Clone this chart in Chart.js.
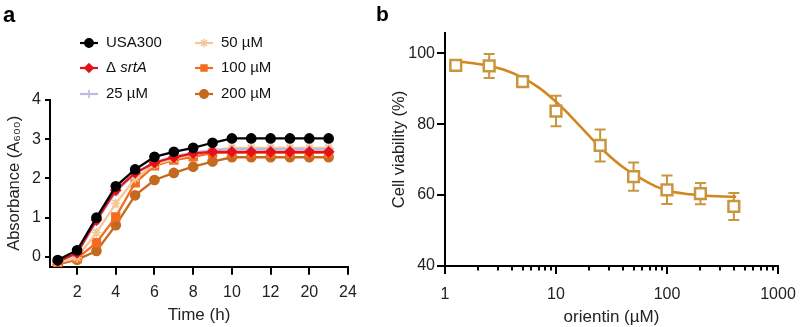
<!DOCTYPE html>
<html><head><meta charset="utf-8">
<script src="https://cdn.jsdelivr.net/npm/chart.js@4/dist/chart.umd.min.js"></script>
<style>
html,body{margin:0;padding:0;background:#fff;}
body{width:800px;height:327px;position:relative;overflow:hidden;font-family:"Liberation Sans",Arial,sans-serif;}
#wa{position:absolute;left:0;top:0;width:385px;height:327px;}
#wb{position:absolute;left:385px;top:0;width:415px;height:327px;}
.pl{position:absolute;font-weight:bold;color:#000;font-family:"Liberation Sans",Arial,sans-serif;line-height:1;}
</style></head>
<body>
<div id="wa"><canvas id="ca"></canvas></div>
<div id="wb"><canvas id="cb"></canvas></div>
<div class="pl" style="left:3px;top:4px;font-size:22px;">a</div>
<div class="pl" style="left:376px;top:3px;font-size:21px;">b</div>
<script>
// ---------- Panel a data ----------
const timePos = [1,2,3,4,5,6,7,8,9,10,11,12,13,14,15];
const xTickPos = [2,4,6,8,10,12,14,16];
const xTickLabels = ['2','4','6','8','10','12','20','24'];
const yTicksA = [0,1,2,3,4];
const seriesNames = ['USA300','\u0394srtA','25 \u00b5M','50 \u00b5M','100 \u00b5M','200 \u00b5M'];
const usa300 = [-0.08,0.17,1.00,1.80,2.23,2.55,2.68,2.78,2.91,3.02,3.02,3.02,3.02,3.02,3.02];
const srtA   = [-0.12,0.10,0.94,1.70,2.14,2.40,2.54,2.64,2.68,2.68,2.68,2.68,2.68,2.68,2.68];
const c25    = [-0.12,0.08,0.90,1.66,2.12,2.42,2.56,2.66,2.72,2.75,2.75,2.75,2.75,2.75,2.75];
const c50    = [-0.15,-0.02,0.62,1.36,2.00,2.36,2.50,2.62,2.72,2.78,2.78,2.78,2.78,2.78,2.78];
const c100   = [-0.16,-0.04,0.36,1.02,1.89,2.32,2.47,2.55,2.65,2.65,2.65,2.65,2.65,2.65,2.65];
const c200   = [-0.19,-0.07,0.15,0.81,1.57,1.96,2.14,2.30,2.43,2.54,2.54,2.54,2.54,2.54,2.54];
const errA   = [0.04,0.05,0.07,0.08,0.07,0.07,0.06,0.06,0.06,0.06,0.06,0.06,0.06,0.06,0.06];

// ---------- Panel b data ----------
const conc = [1.25,2.5,5,10,25,50,100,200,400];
const viability = [96.6,96.4,92.0,83.7,74.0,65.2,61.5,60.4,56.8];
const viabErr = [1.0,3.4,1.0,4.3,4.5,4.0,4.0,3.0,3.8];
const fitX = [1.27,1.8,2.5,3.5,5,7,10,14,20,28,40,56,80,110,160,230,320,420];
const fitY = [97.7,97.2,96.4,95.2,93.1,90.3,86.3,81.8,76.6,72.0,67.9,65.0,62.4,61.0,60.2,59.8,59.6,59.5];
const xMajorB = [1,10,100,1000];
const xMinorB = [2,3,4,5,6,7,8,9,20,30,40,50,60,70,80,90,200,300,400,500,600,700,800,900];
const yTicksB = [40,60,80,100];

const FONT = '"Liberation Sans", Arial, sans-serif';
Chart.defaults.font.family = FONT;
Chart.defaults.color = '#222';

const errorBarPlugin = {
  id: 'errorBars',
  beforeDatasetsDraw(chart) {
    const ctx = chart.ctx;
    chart.data.datasets.forEach((ds, i) => {
      if (!ds.errors) return;
      const meta = chart.getDatasetMeta(i);
      const xs = chart.scales[meta.xAxisID], ys = chart.scales[meta.yAxisID];
      ctx.save();
      ctx.strokeStyle = ds.errorColor || ds.borderColor;
      ctx.lineWidth = ds.errorWidth || 1.5;
      const c = (ds.capWidth || 6) / 2;
      ds.data.forEach((p, j) => {
        const e = ds.errors[j]; if (!e) return;
        const x = xs.getPixelForValue(p.x);
        const y1 = ys.getPixelForValue(p.y - e), y2 = ys.getPixelForValue(p.y + e);
        ctx.beginPath();
        ctx.moveTo(x, y1); ctx.lineTo(x, y2);
        ctx.moveTo(x - c, y1); ctx.lineTo(x + c, y1);
        ctx.moveTo(x - c, y2); ctx.lineTo(x + c, y2);
        ctx.stroke();
      });
      ctx.restore();
    });
  }
};

const legendPlugin = {
  id: 'customLegend',
  afterDraw(chart) {
    const ctx = chart.ctx;
    const colX = [80, 195], rowY = [43, 68, 94];
    chart.data.datasets.forEach((ds, i) => {
      const col = i < 3 ? 0 : 1, row = i % 3;
      const x0 = colX[col], y = rowY[row];
      ctx.save();
      ctx.strokeStyle = ds.borderColor; ctx.lineWidth = 2.2;
      ctx.beginPath(); ctx.moveTo(x0, y); ctx.lineTo(x0 + 18, y); ctx.stroke();
      ctx.fillStyle = ds.pointBackgroundColor; ctx.strokeStyle = ds.borderColor; ctx.lineWidth = 1.5;
      Chart.helpers.drawPoint(ctx, {pointStyle: ds.pointStyle, radius: 4.2, rotation: 0, borderWidth: 1.5}, x0 + 9, y);
      ctx.fillStyle = '#111'; ctx.textBaseline = 'middle'; ctx.textAlign = 'left';
      let tx = x0 + 26;
      const name = ds.label;
      if (name.startsWith('\u0394')) {
        ctx.font = '15px ' + FONT;
        ctx.fillText('\u0394 ', tx, y);
        tx += ctx.measureText('\u0394 ').width;
        ctx.font = 'italic 15px ' + FONT;
        ctx.fillText(name.slice(1), tx, y);
      } else {
        ctx.font = '15px ' + FONT;
        ctx.fillText(name, tx, y);
      }
      ctx.restore();
    });
  }
};

const colorsA = ['#000000','#e3111b','#b9b9ec','#f6c896','#f36c21','#c46a1f'];
const stylesA = ['circle','rectRot','cross','star','rect','circle'];
const radiusA = [4.6,4.8,4.5,4.8,5.6,4.6];
const valsA = [usa300, srtA, c25, c50, c100, c200];
const orderA = [0,1,2,3,4,5];

const dsA = valsA.map((v, i) => ({
  label: seriesNames[i],
  data: timePos.map((t, j) => ({x: t, y: v[j]})),
  errors: errA,
  capWidth: 6,
  errorWidth: 1.5,
  borderColor: colorsA[i],
  backgroundColor: colorsA[i],
  pointBackgroundColor: colorsA[i],
  pointBorderColor: colorsA[i],
  pointStyle: stylesA[i],
  pointRadius: radiusA[i],
  pointBorderWidth: 1.5,
  borderWidth: 2.3,
  tension: 0,
  order: orderA[i]
}));

const axisCommon = (tl) => ({
  grid: {display: true, drawOnChartArea: false, drawTicks: true, tickLength: tl, color: '#000', lineWidth: 2},
  border: {display: true, color: '#000', width: 2}
});

new Chart(document.getElementById('ca'), {
  type: 'line',
  data: {datasets: dsA},
  options: {
    responsive: true, maintainAspectRatio: false, animation: false,
    layout: {padding: {top: 100, right: 37, left: 0, bottom: 0}},
    plugins: {legend: {display: false}, tooltip: {enabled: false}},
    scales: {
      x: Object.assign({
        type: 'linear', min: 0.6, max: 16,
        afterBuildTicks: s => { s.ticks = xTickPos.map(v => ({value: v})); },
        afterFit: s => { s.height = 60.3; s.paddingLeft = 0; s.paddingRight = 0; },
        ticks: {font: {size: 16}, color: '#222', padding: 8, maxRotation: 0,
          callback: v => { const k = xTickPos.indexOf(v); return k >= 0 ? xTickLabels[k] : ''; }},
        title: {display: true, text: 'Time (h)', font: {size: 17}, color: '#222', padding: {top: 0, bottom: 1}}
      }, axisCommon(8)),
      y: Object.assign({
        type: 'linear', min: -0.25, max: 4,
        afterBuildTicks: s => { s.ticks = yTicksA.map(v => ({value: v})); },
        afterFit: s => { s.width = 50; },
        ticks: {font: {size: 16}, color: '#222', padding: 4},
        title: {display: true, text: 'Absorbance (A\u2086\u2080\u2080)', font: {size: 16.5}, color: '#222', padding: {top: 5, bottom: 0}}
      }, axisCommon(5))
    }
  },
  plugins: [errorBarPlugin, legendPlugin]
});

const colB = '#c9963f';
const curveB = '#d4861e';
new Chart(document.getElementById('cb'), {
  type: 'line',
  data: {datasets: [
    {
      label: 'data',
      data: conc.map((c, j) => ({x: c, y: viability[j]})),
      errors: viabErr, capWidth: 11, errorWidth: 2, errorColor: colB,
      showLine: false,
      pointStyle: 'rect', pointRadius: 7.6, pointBorderWidth: 2.5,
      pointBorderColor: colB, pointBackgroundColor: '#ffffff',
      borderColor: colB, backgroundColor: '#fff',
      order: 0
    },
    {
      label: 'fit',
      data: fitX.map((c, j) => ({x: c, y: fitY[j]})),
      borderColor: curveB, borderWidth: 2.5, pointRadius: 0,
      cubicInterpolationMode: 'monotone', fill: false,
      order: 1
    }
  ]},
  options: {
    responsive: true, maintainAspectRatio: false, animation: false,
    layout: {padding: {top: 33, right: 22, left: 0, bottom: 0}},
    plugins: {legend: {display: false}, tooltip: {enabled: false}},
    scales: {
      x: Object.assign({
        type: 'logarithmic', min: 1, max: 1000,
        afterBuildTicks: s => { s.ticks = xMajorB.map(v => ({value: v, major: true})); },
        afterFit: s => { s.height = 61; s.paddingLeft = 0; s.paddingRight = 0; },
        ticks: {font: {size: 16}, color: '#222', padding: 10.5, maxRotation: 0, autoSkip: false,
          callback: v => String(v)},
        title: {display: true, text: 'orientin (\u00b5M)', font: {size: 17, lineHeight: 1.1}, color: '#222', padding: {top: 0, bottom: 0}}
      }, axisCommon(8)),
      xMinor: {
        type: 'logarithmic', min: 1, max: 1000, position: {y: 40},
        afterBuildTicks: s => { s.ticks = xMinorB.map(v => ({value: v})); },
        afterFit: s => { s.paddingLeft = 0; s.paddingRight = 0; },
        ticks: {display: false},
        grid: {display: true, drawOnChartArea: false, drawTicks: true, tickLength: 4.5, color: '#000', lineWidth: 2},
        border: {display: false}
      },
      y: Object.assign({
        type: 'linear', min: 40, max: 105.7,
        afterBuildTicks: s => { s.ticks = yTicksB.map(v => ({value: v})); },
        afterFit: s => { s.width = 60; },
        ticks: {font: {size: 16}, color: '#222', padding: 2},
        title: {display: true, text: 'Cell viability (%)', font: {size: 16.5}, color: '#222', padding: {top: 5, bottom: 0}}
      }, axisCommon(8))
    }
  },
  plugins: [errorBarPlugin]
});
</script>
</body></html>
